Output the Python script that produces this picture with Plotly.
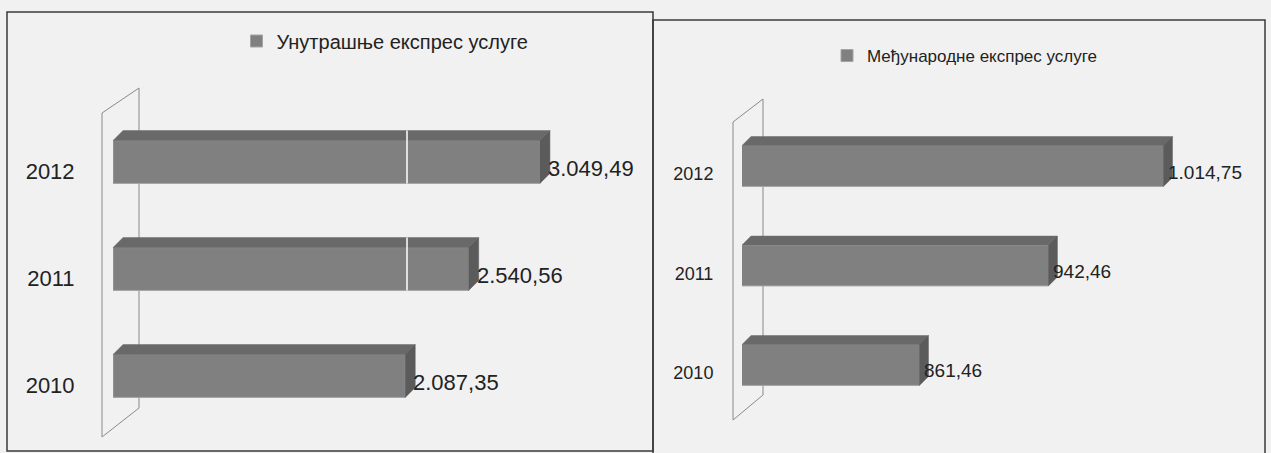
import plotly.graph_objects as go

# ---------------- data ----------------
years = ["2010", "2011", "2012"]
domestic = [2087.35, 2540.56, 3049.49]
international = [861.46, 942.46, 1014.75]
domestic_name = "Унутрашње експрес услуге"
international_name = "Међународне експрес услуге"

# ---------------- style ----------------
W, H = 1271, 453
BG = "#f1f1f1"
FRONT = "#808080"
EDGE = "#a4a4a4"
TOP = "#696969"
SIDE = "#5b5b5b"
WALL = "#8a8a8a"
BORDER = "#3a3a3a"
FONT = "Liberation Sans"


def px(x):
    return x / W


def py(y):
    return 1 - y / H


def fmt(v):
    s = f"{v:,.2f}"
    return s.replace(",", "X").replace(".", ",").replace("X", ".")


panels = [
    dict(name=domestic_name, values=domestic, xa="x", ya="y", legend="legend",
         x0px=113, x1px=613, xmin=0, ppu=0.1400,
         yc0=376, ystep=107, ylo=-0.6, yhi=2.65, barw=0.40, depth=10,
         tickshift=9, ticklen=33, tickfont=22, labfont=22, labx=6, laby=-6,
         grid=2100,
         wall=[(102, 437), (102, 113), (139, 88), (139, 408)],
         legx=385, legy=41, legfont=20),
    dict(name=international_name, values=international, xa="x2", ya="y2", legend="legend2",
         x0px=742, x1px=1242, xmin=750, ppu=1.592,
         yc0=365, ystep=99.5, ylo=-0.7, yhi=2.7, barw=0.41, depth=9,
         tickshift=8, ticklen=24, tickfont=18, labfont=19, labx=3, laby=-6,
         grid=None,
         wall=[(733, 420), (733, 122), (763, 99), (763, 395)],
         legx=965, legy=56, legfont=17),
]

fig = go.Figure()
shapes = []
annotations = []
layout = {}

for k, p in enumerate(panels):
    idx = list(range(len(years)))
    vals = p["values"]
    xmax = p["xmin"] + (p["x1px"] - p["x0px"]) / p["ppu"]
    ddx = p["depth"] / p["ppu"]
    ddy = p["depth"] / p["ystep"]
    w = p["barw"]

    # front faces
    fig.add_trace(go.Bar(
        x=vals, y=idx, orientation="h", width=w, name=p["name"],
        marker=dict(color=FRONT, line=dict(color=EDGE, width=1)),
        xaxis=p["xa"], yaxis=p["ya"], legend=p["legend"], hoverinfo="skip",
    ))

    # top and side faces (3D depth)
    tx, ty, sx, sy = [], [], [], []
    x0 = p["xmin"]
    for i, v in zip(idx, vals):
        yb, yt = i - w / 2, i + w / 2
        tx += [x0, x0 + ddx, v + ddx, v, x0, None]
        ty += [yt, yt + ddy, yt + ddy, yt, yt, None]
        sx += [v, v + ddx, v + ddx, v, v, None]
        sy += [yb, yb + ddy, yt + ddy, yt, yb, None]
    fig.add_trace(go.Scatter(x=tx, y=ty, fill="toself", fillcolor=TOP, mode="lines",
                             line=dict(width=0.5, color=TOP), showlegend=False,
                             xaxis=p["xa"], yaxis=p["ya"], hoverinfo="skip"))
    fig.add_trace(go.Scatter(x=sx, y=sy, fill="toself", fillcolor=SIDE, mode="lines",
                             line=dict(width=0.5, color=SIDE), showlegend=False,
                             xaxis=p["xa"], yaxis=p["ya"], hoverinfo="skip"))

    # white gridline showing through bars
    if p["grid"] is not None:
        for i, v in zip(idx, vals):
            if v > p["grid"]:
                shapes.append(dict(type="line", xref=p["xa"], yref=p["ya"],
                                   x0=p["grid"], x1=p["grid"],
                                   y0=i - w / 2, y1=i + w / 2 + ddy,
                                   line=dict(color="white", width=1.5), layer="above"))

    # value labels
    for i, v in zip(idx, vals):
        annotations.append(dict(x=v, y=i, xref=p["xa"], yref=p["ya"], text=fmt(v),
                                showarrow=False, xanchor="left", yanchor="middle",
                                xshift=p["labx"], yshift=p["laby"],
                                font=dict(family=FONT, size=p["labfont"], color="#222")))

    # axes
    ybot = p["yc0"] - p["ylo"] * p["ystep"]
    ytop = p["yc0"] - p["yhi"] * p["ystep"]
    xname = "xaxis" if k == 0 else "xaxis2"
    yname = "yaxis" if k == 0 else "yaxis2"
    layout[xname] = dict(domain=[px(p["x0px"]), px(p["x1px"])], range=[p["xmin"], xmax],
                         showgrid=False, zeroline=False, showline=False,
                         showticklabels=False, anchor=p["ya"])
    layout[yname] = dict(domain=[py(ybot), py(ytop)], range=[p["ylo"], p["yhi"]],
                         tickvals=[i - p["tickshift"] / p["ystep"] for i in idx],
                         ticktext=years, ticks="outside", ticklen=p["ticklen"],
                         tickcolor="rgba(0,0,0,0)", showgrid=False, zeroline=False,
                         showline=False, anchor=p["xa"],
                         tickfont=dict(family=FONT, size=p["tickfont"], color="#222"))

    # 3D wall
    path = "M " + " L ".join(f"{px(a)},{py(b)}" for a, b in p["wall"]) + " Z"
    shapes.append(dict(type="path", xref="paper", yref="paper", path=path,
                       line=dict(color=WALL, width=1), layer="below"))

    layout[p["legend"]] = dict(x=px(p["legx"]), y=py(p["legy"]), xanchor="center",
                               yanchor="middle", bgcolor="rgba(0,0,0,0)", itemwidth=30,
                               font=dict(family=FONT, size=p["legfont"], color="#222"))

# panel borders
shapes.append(dict(type="rect", xref="paper", yref="paper",
                   x0=px(7), x1=px(653), y0=py(451), y1=py(12),
                   line=dict(color=BORDER, width=1.5), layer="below"))
shapes.append(dict(type="rect", xref="paper", yref="paper",
                   x0=px(653), x1=px(1265), y0=py(460), y1=py(20),
                   line=dict(color=BORDER, width=1.5), layer="below"))

fig.update_layout(
    width=W, height=H, margin=dict(l=0, r=0, t=0, b=0),
    paper_bgcolor=BG, plot_bgcolor="rgba(0,0,0,0)",
    barmode="overlay", shapes=shapes, annotations=annotations,
    **layout,
)

fig.write_html(
    "out.html",
    config={"displayModeBar": False},
    post_script="document.body.style.margin='0';document.body.style.padding='0';"
                "document.body.style.background='" + BG + "';",
)
